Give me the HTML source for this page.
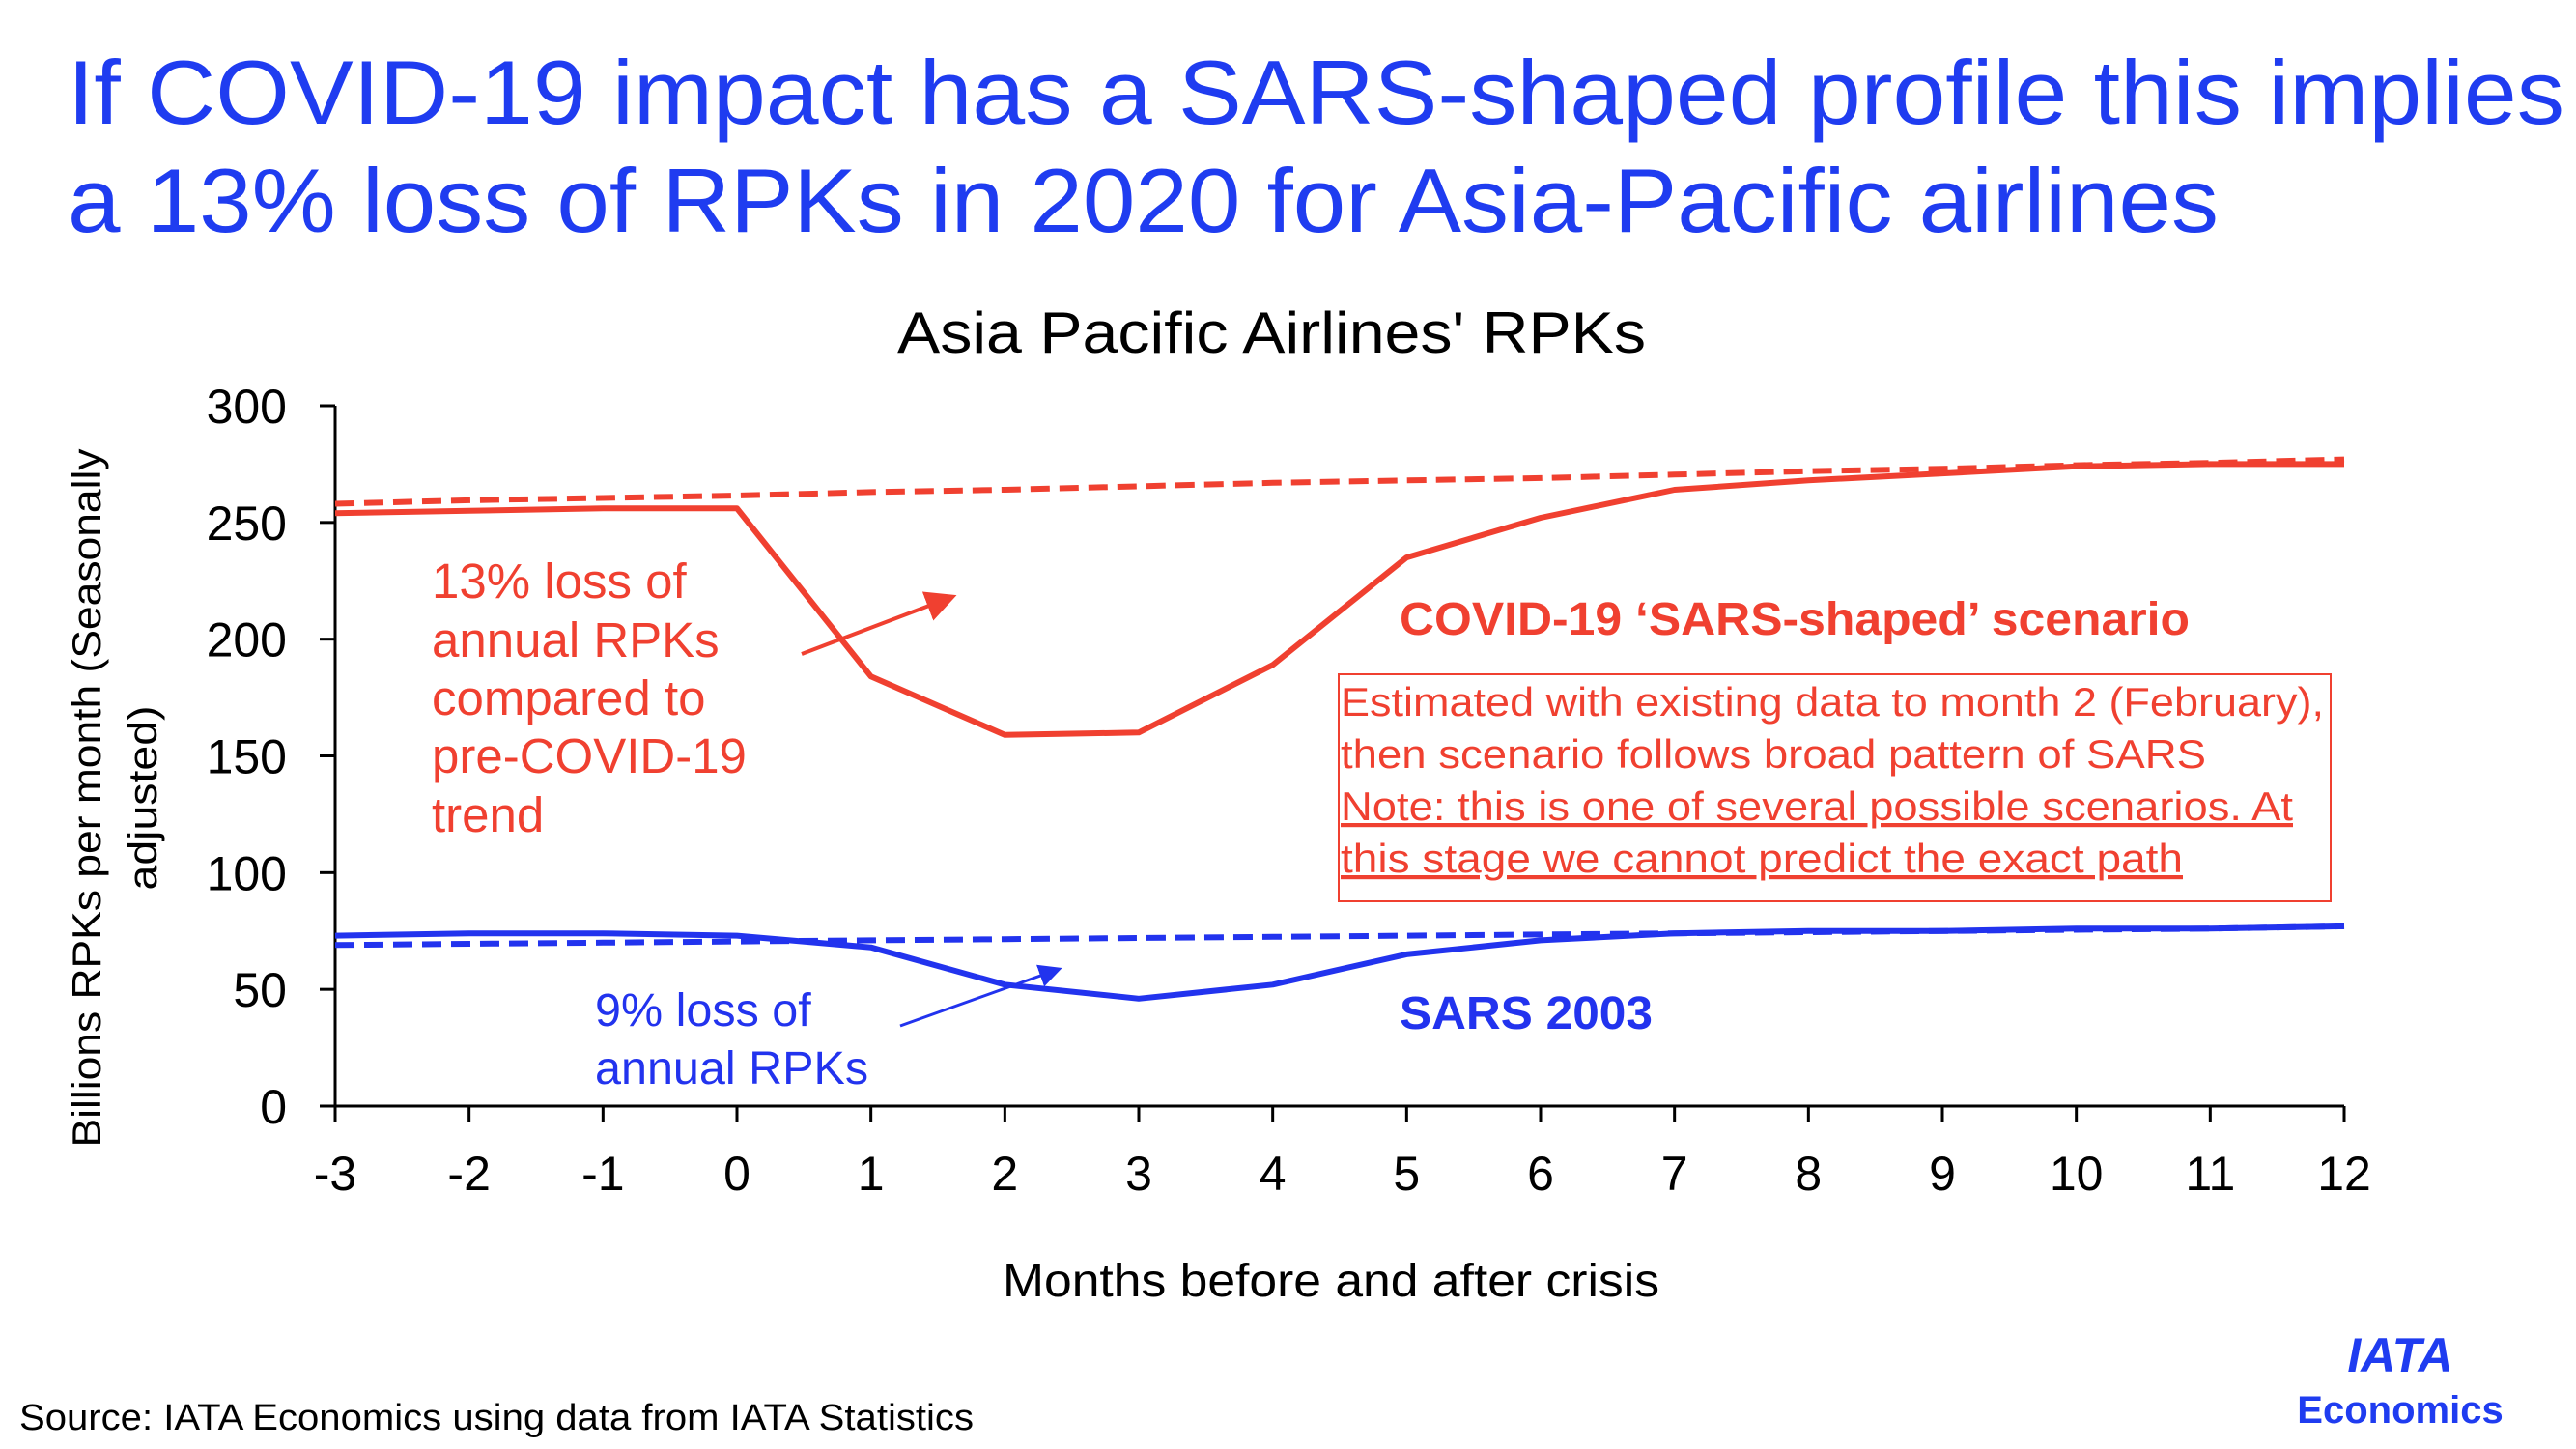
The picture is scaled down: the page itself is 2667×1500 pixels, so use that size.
<!DOCTYPE html>
<html><head><meta charset="utf-8"><style>
html,body{margin:0;padding:0;background:#fff;width:2667px;height:1500px;overflow:hidden}
svg{display:block;font-family:"Liberation Sans",sans-serif}
</style></head><body>
<svg id="chart" width="2667" height="1500" viewBox="0 0 2667 1500">
<text x="70" y="128" font-size="94" fill="#1f3cf0" textLength="2585" lengthAdjust="spacingAndGlyphs">If COVID-19 impact has a SARS-shaped profile this implies</text>
<text x="70" y="240" font-size="94" fill="#1f3cf0" textLength="2227" lengthAdjust="spacingAndGlyphs">a 13% loss of RPKs in 2020 for Asia-Pacific airlines</text>
<text x="929" y="365" font-size="60" fill="#000" textLength="775" lengthAdjust="spacingAndGlyphs">Asia Pacific Airlines' RPKs</text>
<g id="axes"></g>
<g id="series"></g>
<text transform="translate(104,826) rotate(-90)" font-size="42" text-anchor="middle" textLength="723" lengthAdjust="spacingAndGlyphs">Billions RPKs per month (Seasonally</text>
<text transform="translate(162,826) rotate(-90)" font-size="42" text-anchor="middle" textLength="191" lengthAdjust="spacingAndGlyphs">adjusted)</text>
<text x="1038" y="1342" font-size="48" textLength="680" lengthAdjust="spacingAndGlyphs">Months before and after crisis</text>
<g fill="#f04030" font-size="51">
<text x="447" y="619">13% loss of</text><text x="447" y="680">annual RPKs</text><text x="447" y="740">compared to</text><text x="447" y="800">pre-COVID-19</text><text x="447" y="861">trend</text></g>
<g fill="#2233ee" font-size="48.5">
<text x="616" y="1062">9% loss of</text><text x="616" y="1122">annual RPKs</text></g>
<defs><marker id="ar" markerWidth="8" markerHeight="8" refX="6" refY="4" orient="auto"><path d="M0,0 L8,4 L0,8 z" fill="#f04030"/></marker>
<marker id="ab" markerWidth="8" markerHeight="8" refX="6" refY="4" orient="auto"><path d="M0,0 L8,4 L0,8 z" fill="#2233ee"/></marker></defs>
<line x1="830" y1="677" x2="983" y2="619" stroke="#f04030" stroke-width="4" marker-end="url(#ar)"/>
<line x1="932" y1="1062" x2="1094" y2="1004" stroke="#2233ee" stroke-width="3" marker-end="url(#ab)"/>
<text x="1449" y="657" font-size="48" font-weight="bold" fill="#f04030" textLength="818" lengthAdjust="spacingAndGlyphs">COVID-19 ‘SARS-shaped’ scenario</text>
<text x="1449" y="1065" font-size="48" font-weight="bold" fill="#2233ee" textLength="262" lengthAdjust="spacingAndGlyphs">SARS 2003</text>
<rect x="1386" y="698" width="1027" height="235" fill="none" stroke="#f04030" stroke-width="2"/>
<g fill="#f04030" font-size="42">
<text x="1388" y="741" textLength="1018" lengthAdjust="spacingAndGlyphs">Estimated with existing data to month 2 (February),</text>
<text x="1388" y="795" textLength="896" lengthAdjust="spacingAndGlyphs">then scenario follows broad pattern of SARS</text>
<text x="1388" y="849" textLength="986" lengthAdjust="spacingAndGlyphs" text-decoration="underline">Note: this is one of several possible scenarios. At</text>
<text x="1388" y="903" textLength="872" lengthAdjust="spacingAndGlyphs" text-decoration="underline">this stage we cannot predict the exact path</text></g>
<text x="20" y="1480" font-size="38" fill="#000" textLength="988" lengthAdjust="spacingAndGlyphs">Source: IATA Economics using data from IATA Statistics</text>
<text x="2485" y="1420" font-size="50" font-weight="bold" font-style="italic" fill="#1f3cf0" text-anchor="middle">IATA</text>
<text x="2485" y="1473" font-size="40" font-weight="bold" fill="#1f3cf0" text-anchor="middle">Economics</text>
</svg>
<script>
const months = [-3,-2,-1,0,1,2,3,4,5,6,7,8,9,10,11,12];
const covidScenario = [254,255,256,256,184,159,160,189,235,252,264,268,271,274,275,275];
const covidTrend = [258,259.5,260.5,261.5,263,264,265.5,267,268,269,270.5,272,273,274.5,275.5,277];
const sars = [73,74,74,73,68,52,46,52,65,71,74,75,75,76,76,77];
const sarsTrend = [69,69.5,70,70.5,71,71.5,72,72.5,73,73.5,74,74.5,75,75.5,76,77];
const yTicks = [0,50,100,150,200,250,300];
const NS='http://www.w3.org/2000/svg';
const X0=347,X1=2427,Y0=1145,Y1=420;
function xs(m){return X0+(m-(-3))/15*(X1-X0);}
function ys(v){return Y0-v/300*(Y0-Y1);}
function mk(t,a,p){const e=document.createElementNS(NS,t);for(const k in a)e.setAttribute(k,a[k]);p.appendChild(e);return e;}
const ax=document.getElementById('axes');
let l=mk('line',{x1:X0,y1:Y1,x2:X0,y2:Y0,stroke:'#000','stroke-width':3},ax);


l=mk('line',{x1:X0,y1:Y0,x2:X1,y2:Y0,stroke:'#000','stroke-width':3},ax);


yTicks.forEach(v=>{
  const t=mk('line',{x1:X0-16,y1:ys(v),x2:X0,y2:ys(v),stroke:'#000','stroke-width':3},ax);
  
  
  const tx=mk('text',{x:297,y:ys(v)+18,'font-size':50,'text-anchor':'end'},ax);
  tx.textContent=v;
  
  
});
months.forEach(m=>{
  const t=mk('line',{x1:xs(m),y1:Y0,x2:xs(m),y2:Y0+16,stroke:'#000','stroke-width':3},ax);
  
  
  const tx=mk('text',{x:xs(m),y:1232,'font-size':50,'text-anchor':'middle'},ax);
  tx.textContent=m;
  
  
});
const sg=document.getElementById('series');
function line(vals,color,dash,name){
  const d=vals.map((v,i)=>(i?'L':'M')+xs(months[i]).toFixed(1)+','+ys(v).toFixed(1)).join(' ');
  const p=mk('path',{d:d,fill:'none',stroke:color,'stroke-width':6,'stroke-dasharray':dash?'20 10':'none','stroke-linejoin':'round'},sg);
  
  
}
line(covidTrend,'#f04030',true,'covid-trend-line');
line(sarsTrend,'#2233ee',true,'sars-trend-line');
line(covidScenario,'#f04030',false,'covid-scenario-line');
line(sars,'#2233ee',false,'sars-line');
</script>
</body></html>
